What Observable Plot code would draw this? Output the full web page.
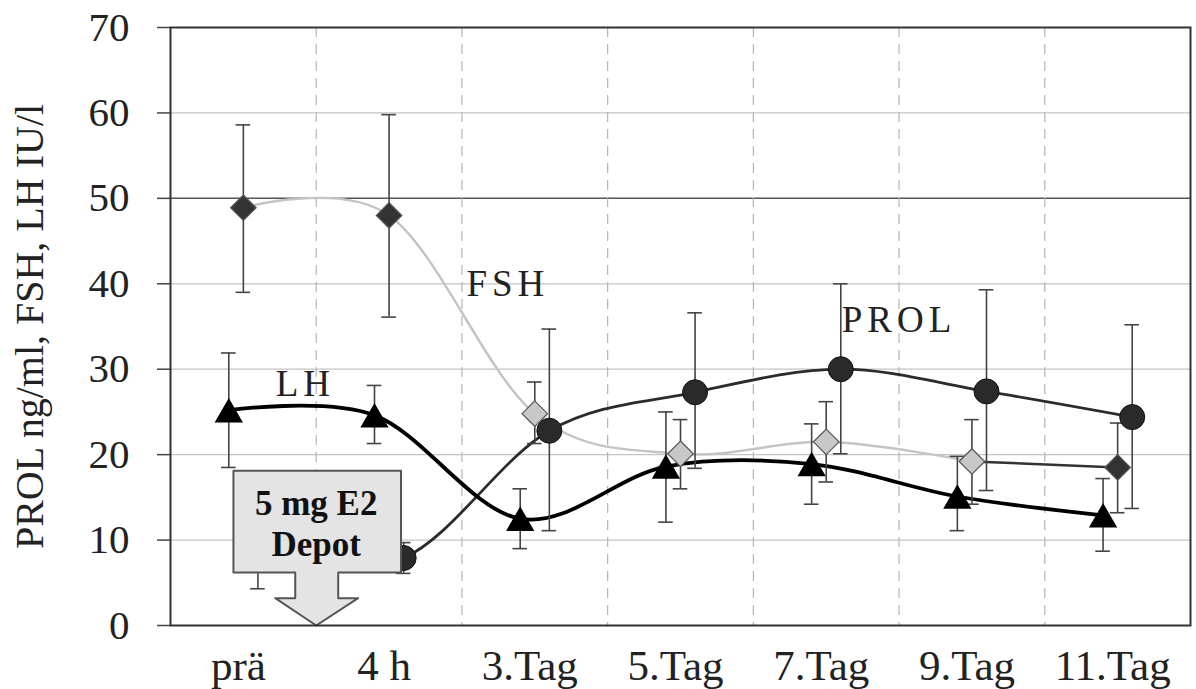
<!DOCTYPE html>
<html><head><meta charset="utf-8">
<script src="https://cdn.jsdelivr.net/npm/d3@7"></script>
<script src="https://cdn.jsdelivr.net/npm/@observablehq/plot@0.6"></script>
<style>
body{margin:0;background:#fff}
#chart svg{display:block}
</style>
</head><body><div id="chart"></div>
<script>
const categories = ["prä", "4 h", "3.Tag", "5.Tag", "7.Tag", "9.Tag", "11.Tag"];
const lhValues  = [25.2, 24.6, 12.5, 18.6, 18.9, 15.1, 12.9];
const lhLow     = [18.5, 21.3, 9.0, 12.1, 14.2, 11.1, 8.7];
const lhHigh    = [31.9, 28.1, 16.0, 25.0, 23.6, 19.8, 17.2];
const fshValues = [48.9, 48.0, 24.8, 20.1, 21.5, 19.2, 18.5];
const fshLow    = [39.0, 36.1, 21.3, 16.0, 16.8, 14.2, 13.2];
const fshHigh   = [58.6, 59.8, 28.5, 24.1, 26.2, 24.1, 23.7];
const prolValues = [8.0, 7.9, 22.8, 27.3, 30.0, 27.4, 24.4];
const prolLow    = [4.3, 6.1, 11.1, 18.4, 20.1, 15.8, 13.7];
const prolHigh   = [11.7, 9.7, 34.7, 36.6, 40.0, 39.3, 35.2];
const yTicks = [0, 10, 20, 30, 40, 50, 60, 70];
const yTitle = "PROL ng/ml, FSH, LH IU/l";
const seriesLabels = [
  {text: "FSH", pos: 1.815, value: 40.0},
  {text: "LH", pos: 0.425, value: 28.3},
  {text: "PROL", pos: 4.5, value: 35.7}
];
const calloutText = "5 mg E2\nDepot";
const calloutAt = 0.5;   // between "prä" and "4 h"
// callout outline, [offset in category units from calloutAt, value]
const calloutShape = [
  [-0.568, 18.1], [0.582, 18.1], [0.582, 6.2], [0.151, 6.2], [0.151, 3.2],
  [0.288, 3.2], [0, 0], [-0.281, 3.2], [-0.144, 3.2], [-0.144, 6.2],
  [-0.568, 6.2], [-0.568, 18.1]
];

const offsets = {LH: -0.1, FSH: 0, PROL: 0.1};
function rowsFor(name, values, low, high) {
  return categories.map((c, i) => ({
    cat: c, i, series: name, x: i + offsets[name],
    value: values[i], low: low[i], high: high[i]
  }));
}
const lhRows = rowsFor("LH", lhValues, lhLow, lhHigh);
const fshRows = rowsFor("FSH", fshValues, fshLow, fshHigh);
const prolRows = rowsFor("PROL", prolValues, prolLow, prolHigh);
const allRows = [...lhRows, ...fshRows, ...prolRows];
const darkFsh = new Set(["prä", "4 h", "11.Tag"]);
const capHalf = 0.05;
const calloutPts = calloutShape.map(([dx, v]) => ({x: calloutAt + dx, y: v}));

const chart = Plot.plot({
  width: 1196, height: 689,
  marginLeft: 170, marginRight: 6, marginTop: 27, marginBottom: 64,
  style: {fontFamily: "'Liberation Serif', 'Times New Roman', serif", fontSize: "40px", color: "#222", background: "#fff"},
  x: {type: "linear", domain: [-0.5, categories.length - 0.5], axis: null},
  y: {domain: [0, 70], axis: null},
  marks: [
    // grid
    Plot.ruleY(yTicks.filter(v => v > 0 && v < 70 && v !== 50), {stroke: "#c4c4c4", strokeWidth: 1.2}),
    Plot.ruleY([50], {stroke: "#555", strokeWidth: 1.5}),
    Plot.ruleX(d3.range(1, categories.length).map(i => i - 0.5), {stroke: "#b5b5b5", strokeWidth: 1.2, strokeDasharray: "10,7"}),
    // axes
    Plot.axisY({ticks: yTicks, tickSize: 13, tickPadding: 28, stroke: "#444", strokeWidth: 1.5, fontSize: 41, label: null}),
    Plot.axisX({ticks: d3.range(categories.length), tickFormat: i => categories[i], tickSize: 0, tickPadding: 24, fontSize: 43, dx: -5, label: null}),
    Plot.text([yTitle], {frameAnchor: "left", rotate: -90, dx: -140, textAnchor: "middle", fontSize: 40, fill: "#222"}),
    // lines
    Plot.line(fshRows.slice(0, 6), {x: "x", y: "value", curve: "cardinal", stroke: "#c4c4c4", strokeWidth: 2.5}),
    Plot.line(fshRows.slice(5), {x: "x", y: "value", stroke: "#333", strokeWidth: 2.5}),
    Plot.line(prolRows, {x: "x", y: "value", curve: "cardinal", stroke: "#2b2b2b", strokeWidth: 2.8}),
    Plot.line(lhRows, {x: "x", y: "value", curve: "cardinal", stroke: "#000", strokeWidth: 3.8}),
    // error bars
    Plot.ruleX(allRows, {x: "x", y1: "low", y2: "high", stroke: "#444", strokeWidth: 1.6}),
    Plot.ruleY(allRows, {y: "low", x1: d => d.x - capHalf, x2: d => d.x + capHalf, stroke: "#444", strokeWidth: 1.6}),
    Plot.ruleY(allRows, {y: "high", x1: d => d.x - capHalf, x2: d => d.x + capHalf, stroke: "#444", strokeWidth: 1.6}),
    // markers
    Plot.dot(fshRows.filter(d => darkFsh.has(d.cat)), {x: "x", y: "value", symbol: "diamond2", r: 11.5, fill: "#333", stroke: "#555", strokeWidth: 1.2}),
    Plot.dot(fshRows.filter(d => !darkFsh.has(d.cat)), {x: "x", y: "value", symbol: "diamond2", r: 11.5, fill: "#c8c8c8", stroke: "#555", strokeWidth: 1.2}),
    Plot.dot(prolRows, {x: "x", y: "value", r: 12.5, fill: "#2a2a2a", stroke: "#111", strokeWidth: 1}),
    Plot.dot(lhRows, {x: "x", y: "value", symbol: "triangle", r: 10.5, dy: 4, fill: "#000"}),
    // callout
    Plot.line(calloutPts, {x: "x", y: "y", fill: "#e4e4e4", stroke: "#555", strokeWidth: 2, curve: "linear"}),
    Plot.text([calloutText], {x: calloutAt, y: 12.05, fontSize: 35, fontWeight: "bold", lineHeight: 1.17, fill: "#111"}),
    // series labels
    Plot.text(seriesLabels, {x: "pos", y: "value", text: "text", fontSize: 37, fill: "#222"}),
    Plot.frame({stroke: "#333", strokeWidth: 2})
  ]
});
const labelSet = new Set(seriesLabels.map(d => d.text));
d3.select(chart).selectAll("text").filter(function() { return labelSet.has(this.textContent); })
  .style("letter-spacing", "5px");
document.getElementById("chart").appendChild(chart);
</script>
</body></html>
